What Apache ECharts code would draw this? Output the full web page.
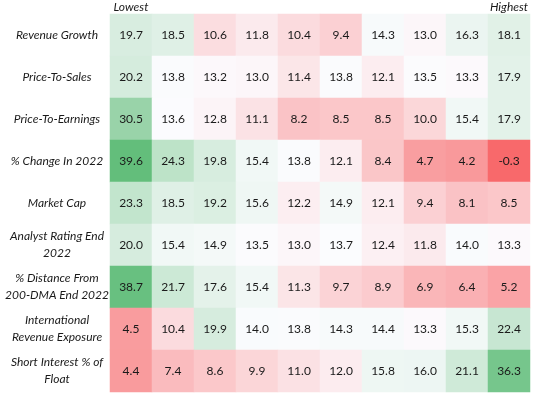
<!DOCTYPE html>
<html>
<head>
<meta charset="utf-8">
<script src="https://cdn.jsdelivr.net/npm/echarts@6/dist/echarts.min.js"></script>
<style>
  html, body { margin: 0; padding: 0; background: #fff; }
  #chart { width: 535px; height: 396px; }
</style>
</head>
<body>
<div id="chart"></div>
<script>
// columns ranked lowest -> highest, only the ends are labelled
const columnLabels = ['Lowest', '', '', '', '', '', '', '', '', 'Highest'];
const metrics = [
  'Revenue Growth',
  'Price-To-Sales',
  'Price-To-Earnings',
  '% Change In 2022',
  'Market Cap',
  'Analyst Rating End\n2022',
  '% Distance From\n200-DMA End 2022',
  'International\nRevenue Exposure',
  'Short Interest % of\nFloat'
];

const revenueGrowth   = [19.7, 18.5, 10.6, 11.8, 10.4, 9.4, 14.3, 13.0, 16.3, 18.1];
const priceToSales    = [20.2, 13.8, 13.2, 13.0, 11.4, 13.8, 12.1, 13.5, 13.3, 17.9];
const priceToEarnings = [30.5, 13.6, 12.8, 11.1, 8.2, 8.5, 8.5, 10.0, 15.4, 17.9];
const change2022      = [39.6, 24.3, 19.8, 15.4, 13.8, 12.1, 8.4, 4.7, 4.2, -0.3];
const marketCap       = [23.3, 18.5, 19.2, 15.6, 12.2, 14.9, 12.1, 9.4, 8.1, 8.5];
const analystRating   = [20.0, 15.4, 14.9, 13.5, 13.0, 13.7, 12.4, 11.8, 14.0, 13.3];
const distance200dma  = [38.7, 21.7, 17.6, 15.4, 11.3, 9.7, 8.9, 6.9, 6.4, 5.2];
const intlRevenue     = [4.5, 10.4, 19.9, 14.0, 13.8, 14.3, 14.4, 13.3, 15.3, 22.4];
const shortInterest   = [4.4, 7.4, 8.6, 9.9, 11.0, 12.0, 15.8, 16.0, 21.1, 36.3];

const rows = [revenueGrowth, priceToSales, priceToEarnings, change2022, marketCap,
              analystRating, distance200dma, intlRevenue, shortInterest];

const data = [];
rows.forEach((row, r) => row.forEach((v, c) => data.push([c, r, v])));

// 3-colour scale: red at min, white at ~median, green at max
const minV = -0.3, midV = 13.5, maxV = 39.6;
const red = [248, 105, 107], white = [252, 252, 255], green = [99, 190, 123];
function mix(a, b, t) {
  return 'rgb(' + a.map((x, i) => Math.round(x + (b[i] - x) * t)).join(',') + ')';
}
const stops = [];
const nStops = 80;
for (let i = 0; i <= nStops; i++) {
  const v = minV + (maxV - minV) * i / nStops;
  stops.push(v <= midV ? mix(red, white, (v - minV) / (midV - minV))
                       : mix(white, green, (v - midV) / (maxV - midV)));
}

const chart = echarts.init(document.getElementById('chart'));
const font = 'Lato, "Open Sans", sans-serif';
chart.setOption({
  animation: false,
  grid: { left: 110, right: 5, top: 14, bottom: 4 },
  xAxis: {
    type: 'category',
    position: 'top',
    data: columnLabels,
    axisLine: { show: false },
    axisTick: { show: false },
    splitLine: { show: false },
    axisLabel: {
      interval: 0,
      margin: 1,
      fontFamily: font,
      fontStyle: 'italic',
      fontSize: 12,
      color: '#1a1a1a'
    }
  },
  yAxis: {
    type: 'category',
    inverse: true,
    data: metrics,
    axisLine: { show: false },
    axisTick: { show: false },
    splitLine: { show: false },
    axisLabel: {
      interval: 0,
      margin: 53,
      align: 'center',
      fontFamily: font,
      fontStyle: 'italic',
      fontSize: 12,
      lineHeight: 17,
      color: '#1a1a1a'
    }
  },
  visualMap: {
    show: false,
    type: 'continuous',
    min: minV,
    max: maxV,
    inRange: { color: stops }
  },
  series: [{
    type: 'heatmap',
    data: data,
    label: {
      show: true,
      fontFamily: font,
      fontSize: 12,
      color: '#1a1a1a',
      formatter: p => p.value[2].toFixed(1)
    },
    itemStyle: { borderWidth: 0 },
    emphasis: { disabled: true }
  }]
});
</script>
</body>
</html>
